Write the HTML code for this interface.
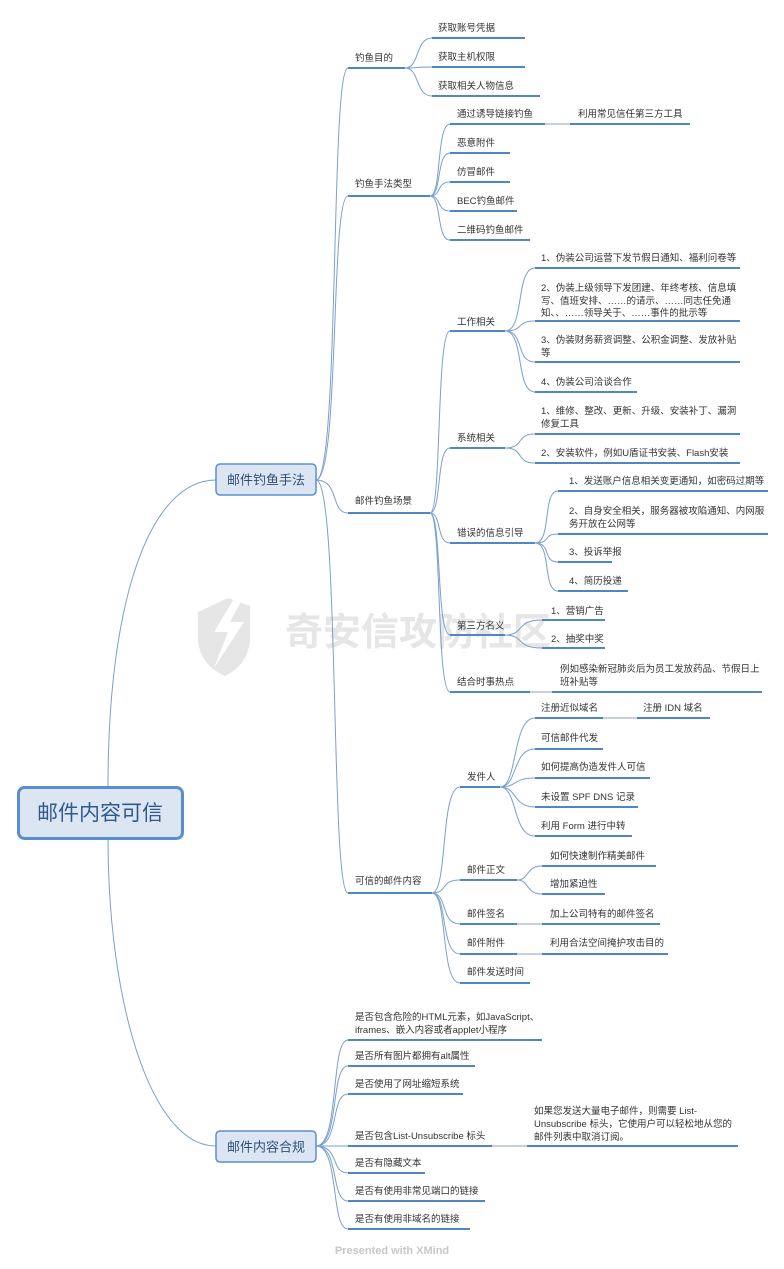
<!DOCTYPE html>
<html><head><meta charset="utf-8"><style>
html,body{margin:0;padding:0;background:#fff}
svg{display:block}
text{font-family:"Liberation Sans","Noto Sans CJK SC",sans-serif;font-size:9.5px;fill:#333}
.u{stroke:#4f86c8;stroke-width:2;fill:none}
.c{stroke:#7a9fcf;stroke-width:1;fill:none}
.g{stroke:#a9b3c0;stroke-width:1.2;fill:none}
</style></head><body>
<svg width="784" height="1269" viewBox="0 0 784 1269" xmlns="http://www.w3.org/2000/svg">
<!-- watermark -->
<g opacity="0.9">
<path d="M198 612 L228 598 L250 606 L250 640 Q248 665 225 676 Q200 665 198 640 Z" fill="#e4e4e4"/>
<path d="M238 592 L214 632 L228 632 L214 668 L244 622 L230 622 L246 592 Z" fill="#fff"/>
<text x="285" y="645" style="font-size:38px;fill:#e4e4e4;font-weight:bold">奇安信攻防社区</text>
</g>
<!-- connectors -->
<path class="c" d="M108 786 C108 600 150 480 216 480"/>
<path class="c" d="M108 839 C108 1000 150 1146 216 1146"/>
<path class="c" d="M316 480 C340 480 330 68 348 68"/>
<path class="c" d="M316 480 C340 480 330 196 348 196"/>
<path class="c" d="M316 480 C340 480 330 513 348 513"/>
<path class="c" d="M316 480 C340 480 330 893 348 893"/>
<path class="c" d="M405 68 C420 68 415 38 432 38"/>
<path class="c" d="M405 68 C420 68 415 67 432 67"/>
<path class="c" d="M405 68 C420 68 415 96 432 96"/>
<path class="c" d="M430 196 C442 196 436 124 450 124"/>
<path class="c" d="M430 196 C442 196 436 153 450 153"/>
<path class="c" d="M430 196 C442 196 436 182 450 182"/>
<path class="c" d="M430 196 C442 196 436 211 450 211"/>
<path class="c" d="M430 196 C442 196 436 240 450 240"/>
<path class="g" d="M545 124 L570 124"/>
<path class="c" d="M430 513 C442 513 436 331 450 331"/>
<path class="c" d="M430 513 C442 513 436 448 450 448"/>
<path class="c" d="M430 513 C442 513 436 543 450 543"/>
<path class="c" d="M430 513 C442 513 436 635 450 635"/>
<path class="c" d="M430 513 C442 513 436 692 450 692"/>
<path class="c" d="M505 331 C525 331 515 268 535 268"/>
<path class="c" d="M505 331 C525 331 515 321 535 321"/>
<path class="c" d="M505 331 C525 331 515 362 535 362"/>
<path class="c" d="M505 331 C525 331 515 392 535 392"/>
<path class="c" d="M505 448 C525 448 515 434 535 434"/>
<path class="c" d="M505 448 C525 448 515 463 535 463"/>
<path class="c" d="M535 543 C552 543 542 491 558 491"/>
<path class="c" d="M535 543 C552 543 542 534 558 534"/>
<path class="c" d="M535 543 C552 543 542 562 558 562"/>
<path class="c" d="M535 543 C552 543 542 591 558 591"/>
<path class="c" d="M505 635 C525 635 515 620 542 620"/>
<path class="c" d="M505 635 C525 635 515 648 542 648"/>
<path class="g" d="M530 692 L552 692"/>
<path class="c" d="M432 893 C448 893 440 787 460 787"/>
<path class="c" d="M432 893 C448 893 440 880 460 880"/>
<path class="c" d="M432 893 C448 893 440 924 460 924"/>
<path class="c" d="M432 893 C448 893 440 954 460 954"/>
<path class="c" d="M432 893 C448 893 440 983 460 983"/>
<path class="c" d="M500 787 C518 787 512 718 535 718"/>
<path class="c" d="M500 787 C518 787 512 749 535 749"/>
<path class="c" d="M500 787 C518 787 512 778 535 778"/>
<path class="c" d="M500 787 C518 787 512 807 535 807"/>
<path class="c" d="M500 787 C518 787 512 836 535 836"/>
<path class="g" d="M603 718 L637 718"/>
<path class="c" d="M517 880 C530 880 525 866 542 866"/>
<path class="c" d="M517 880 C530 880 525 894 542 894"/>
<path class="g" d="M517 924 L542 924"/>
<path class="g" d="M517 954 L542 954"/>
<path class="c" d="M316 1146 C340 1146 330 1040 348 1040"/>
<path class="c" d="M316 1146 C340 1146 330 1066 348 1066"/>
<path class="c" d="M316 1146 C340 1146 330 1094 348 1094"/>
<path class="c" d="M316 1146 C340 1146 330 1146 348 1146"/>
<path class="c" d="M316 1146 C340 1146 330 1173 348 1173"/>
<path class="c" d="M316 1146 C340 1146 330 1201 348 1201"/>
<path class="c" d="M316 1146 C340 1146 330 1229 348 1229"/>
<path class="g" d="M492 1146 L527 1146"/>
<!-- underlines -->
<g class="u">
<path d="M348 68H405"/><path d="M432 38H525"/><path d="M432 67H525"/><path d="M432 96H540"/>
<path d="M348 196H430"/><path d="M450 124H545"/><path d="M570 124H690"/><path d="M450 153H510"/><path d="M450 182H510"/><path d="M450 211H517"/><path d="M450 240H530"/>
<path d="M348 513H430"/>
<path d="M450 331H505"/><path d="M535 268H740"/><path d="M535 321H740"/><path d="M535 362H740"/><path d="M535 392H637"/>
<path d="M450 448H505"/><path d="M535 434H740"/><path d="M535 463H740"/>
<path d="M450 543H535"/><path d="M558 491H768"/><path d="M558 534H768"/><path d="M558 562H612"/><path d="M558 591H628"/>
<path d="M450 635H505"/><path d="M542 620H605"/><path d="M542 648H605"/>
<path d="M450 692H530"/><path d="M552 692H762"/>
<path d="M348 893H432"/>
<path d="M460 787H500"/><path d="M535 718H603"/><path d="M637 718H710"/><path d="M535 749H603"/><path d="M535 778H650"/><path d="M535 807H638"/><path d="M535 836H632"/>
<path d="M460 880H517"/><path d="M542 866H656"/><path d="M542 894H605"/>
<path d="M460 924H517"/><path d="M542 924H660"/>
<path d="M460 954H517"/><path d="M542 954H668"/>
<path d="M460 983H530"/>
<path d="M348 1040H542"/><path d="M348 1066H475"/><path d="M348 1094H463"/><path d="M348 1146H492"/><path d="M527 1146H738"/><path d="M348 1173H425"/><path d="M348 1201H485"/><path d="M348 1229H470"/>
</g>
<!-- boxes -->
<rect x="18.5" y="787.5" width="164" height="51" rx="6" fill="#dce6f3" stroke="#5b8ed1" stroke-width="3"/>
<text x="100" y="820" text-anchor="middle" style="font-size:21px;fill:#2f5a8f">邮件内容可信</text>
<rect x="216" y="464" width="100" height="31" rx="4" fill="#dce6f3" stroke="#5b8ed1" stroke-width="1.5"/>
<text x="266" y="484.5" text-anchor="middle" style="font-size:13px;fill:#2f4f7a">邮件钓鱼手法</text>
<rect x="216" y="1131" width="100" height="31" rx="4" fill="#dce6f3" stroke="#5b8ed1" stroke-width="1.5"/>
<text x="266" y="1151.5" text-anchor="middle" style="font-size:13px;fill:#2f4f7a">邮件内容合规</text>
<!-- labels -->
<text x="355" y="61">钓鱼目的</text>
<text x="438" y="31">获取账号凭据</text>
<text x="438" y="60">获取主机权限</text>
<text x="438" y="89">获取相关人物信息</text>
<text x="355" y="187">钓鱼手法类型</text>
<text x="457" y="117">通过诱导链接钓鱼</text>
<text x="578" y="117">利用常见信任第三方工具</text>
<text x="457" y="146">恶意附件</text>
<text x="457" y="175">仿冒邮件</text>
<text x="457" y="204">BEC钓鱼邮件</text>
<text x="457" y="233">二维码钓鱼邮件</text>
<text x="355" y="504">邮件钓鱼场景</text>
<text x="457" y="325">工作相关</text>
<text x="541" y="261">1、伪装公司运营下发节假日通知、福利问卷等</text>
<text x="541" y="291">2、伪装上级领导下发团建、年终考核、信息填</text>
<text x="541" y="304">写、值班安排、……的请示、……同志任免通</text>
<text x="541" y="316">知、、……领导关于、……事件的批示等</text>
<text x="541" y="343">3、伪装财务薪资调整、公积金调整、发放补贴</text>
<text x="541" y="356">等</text>
<text x="541" y="385">4、伪装公司洽谈合作</text>
<text x="457" y="441">系统相关</text>
<text x="541" y="414">1、维修、整改、更新、升级、安装补丁、漏洞</text>
<text x="541" y="427">修复工具</text>
<text x="541" y="456">2、安装软件，例如U盾证书安装、Flash安装</text>
<text x="457" y="536">错误的信息引导</text>
<text x="569" y="484">1、发送账户信息相关变更通知，如密码过期等</text>
<text x="569" y="514">2、自身安全相关，服务器被攻陷通知、内网服</text>
<text x="569" y="527">务开放在公网等</text>
<text x="569" y="555">3、投诉举报</text>
<text x="569" y="584">4、简历投递</text>
<text x="457" y="629">第三方名义</text>
<text x="551" y="614">1、营销广告</text>
<text x="551" y="642">2、抽奖中奖</text>
<text x="457" y="685">结合时事热点</text>
<text x="560" y="672">例如感染新冠肺炎后为员工发放药品、节假日上</text>
<text x="560" y="685">班补贴等</text>
<text x="355" y="884">可信的邮件内容</text>
<text x="467" y="780">发件人</text>
<text x="541" y="711">注册近似域名</text>
<text x="643" y="711">注册 IDN 域名</text>
<text x="541" y="741">可信邮件代发</text>
<text x="541" y="770">如何提高伪造发件人可信</text>
<text x="541" y="800">未设置 SPF DNS 记录</text>
<text x="541" y="829">利用 Form 进行中转</text>
<text x="467" y="873">邮件正文</text>
<text x="550" y="859">如何快速制作精美邮件</text>
<text x="550" y="887">增加紧迫性</text>
<text x="467" y="917">邮件签名</text>
<text x="550" y="917">加上公司特有的邮件签名</text>
<text x="467" y="946">邮件附件</text>
<text x="550" y="946">利用合法空间掩护攻击目的</text>
<text x="467" y="975">邮件发送时间</text>
<text x="355" y="1020">是否包含危险的HTML元素，如JavaScript、</text>
<text x="355" y="1033">iframes、嵌入内容或者applet小程序</text>
<text x="355" y="1059">是否所有图片都拥有alt属性</text>
<text x="355" y="1087">是否使用了网址缩短系统</text>
<text x="355" y="1139">是否包含List-Unsubscribe 标头</text>
<text x="534" y="1114">如果您发送大量电子邮件，则需要 List-</text>
<text x="534" y="1127">Unsubscribe 标头，它使用户可以轻松地从您的</text>
<text x="534" y="1140">邮件列表中取消订阅。</text>
<text x="355" y="1166">是否有隐藏文本</text>
<text x="355" y="1194">是否有使用非常见端口的链接</text>
<text x="355" y="1222">是否有使用非域名的链接</text>
<text x="392" y="1254" text-anchor="middle" style="font-size:11px;fill:#c8c8c8;font-weight:bold">Presented with XMind</text>
</svg>
</body></html>
